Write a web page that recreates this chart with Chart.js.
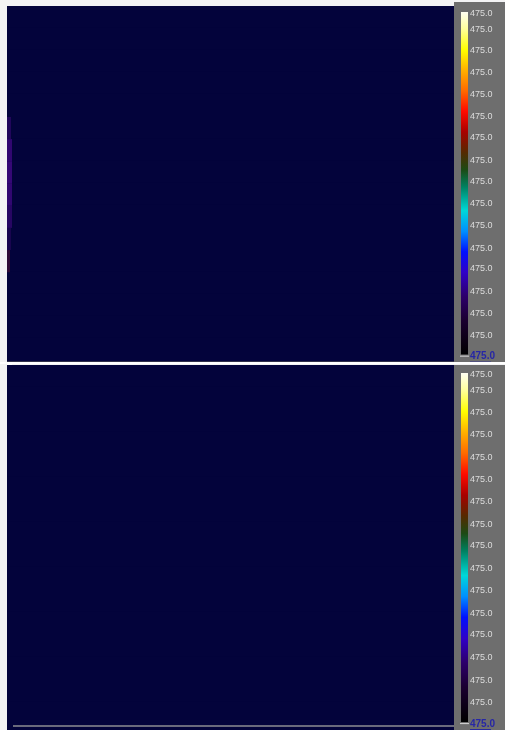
<!DOCTYPE html>
<html>
<head>
<meta charset="utf-8">
<title>Field panels</title>
<script src="https://cdn.jsdelivr.net/npm/chart.js"></script>
<style>
    body { margin: 0; background: #f3f3f4; }
    #wrap { position: relative; width: 505px; height: 730px; overflow: hidden; background: #f3f3f4; }
    .box { position: absolute; }
    .cbar { background: #6e6e6e; }
</style>
</head>
<body>
<div id="wrap">
    <div class="box" style="left:7px;top:6px;width:447px;height:355px;background:#03033b"><canvas id="fieldTop"></canvas></div>
    <div class="box cbar" style="left:454px;top:2px;width:51px;height:360px"><canvas id="barTop"></canvas></div>
    <div class="box" style="left:7px;top:361px;width:447px;height:1px;background:#30304a"></div>
    <div class="box" style="left:0;top:362px;width:505px;height:2px;background:#ffffff"></div>
    <div class="box" style="left:7px;top:364px;width:5px;height:2px;background:#ffffff"></div>
    <div class="box" style="left:7px;top:365px;width:447px;height:360px;background:#03033b"><canvas id="fieldBottom"></canvas></div>
    <div class="box" style="left:7px;top:725px;width:447px;height:5px;background:#03033b"></div>
    <div class="box" style="left:13px;top:725px;width:441px;height:2px;background:#6a6a7c"></div>
    <div class="box cbar" style="left:454px;top:365px;width:51px;height:365px"><canvas id="barBottom"></canvas></div>
</div>

<script>
// field grid: 16 row bands, every cell reads 475.0
const rowLabels = ['r1', 'r2', 'r3', 'r4', 'r5', 'r6', 'r7', 'r8',
                   'r9', 'r10', 'r11', 'r12', 'r13', 'r14', 'r15', 'r16'];
const fieldValues = [475, 475, 475, 475, 475, 475, 475, 475,
                     475, 475, 475, 475, 475, 475, 475, 475];
const fieldColumns = 447;

// faint glow on the left edge of the upper panel (width in columns)
const glowTop = [0, 0, 0, 0, 0, 4, 5, 5, 5, 5, 4, 3, 0, 0, 0, 0];
const glowColors = ['#000', '#000', '#000', '#000', '#000',
    'rgba(70,10,130,0.45)', 'rgba(80,10,150,0.6)', 'rgba(80,10,150,0.65)',
    'rgba(80,10,150,0.6)', 'rgba(75,10,140,0.5)', 'rgba(60,10,110,0.4)',
    'rgba(90,20,50,0.5)', '#000', '#000', '#000', '#000'];

// colour bar
const tickLabels = ['475.0', '475.0', '475.0', '475.0', '475.0', '475.0', '475.0', '475.0',
                    '475.0', '475.0', '475.0', '475.0', '475.0', '475.0', '475.0', '475.0', '475.0'];
const tickLevels = [0.003, 0.05, 0.113, 0.176, 0.241, 0.305, 0.367, 0.433,
                    0.494, 0.56, 0.624, 0.69, 0.75, 0.815, 0.88, 0.943, 1.006];
const stopPos = [0, 0.05, 0.11, 0.17, 0.23, 0.29, 0.35, 0.41, 0.46, 0.51,
                 0.58, 0.64, 0.70, 0.76, 0.83, 0.90, 1.0];
const stopColors = ['#fffff2', '#ffff9a', '#ffff00', '#ffb000', '#ff6a00', '#ff0a00',
                    '#a80000', '#552a00', '#1c4a14', '#008060', '#00d8d8', '#0090ff',
                    '#0010ff', '#3000c8', '#2c006a', '#1a0030', '#000000'];

const navy = '#03033b';
const tickFont = "'Liberation Sans', Arial, sans-serif";

function fieldChart(id, glow) {
    const datasets = [{
        label: 'field',
        data: fieldValues.map(() => [0, fieldColumns]),
        backgroundColor: navy,
        borderWidth: 0,
        inflateAmount: 1,
        barPercentage: 1,
        categoryPercentage: 1,
        grouped: false,
        order: 2
    }];
    if (glow) {
        datasets.push({
            label: 'edge',
            data: glow.map(w => [0, w]),
            backgroundColor: glowColors,
            borderWidth: 0,
            inflateAmount: 0,
            barPercentage: 1,
            categoryPercentage: 1,
            grouped: false,
            order: 1
        });
    }
    return new Chart(document.getElementById(id), {
        type: 'bar',
        data: { labels: rowLabels, datasets: datasets },
        options: {
            indexAxis: 'y',
            responsive: true,
            maintainAspectRatio: false,
            animation: false,
            layout: { padding: 0 },
            plugins: { legend: { display: false }, tooltip: { enabled: false } },
            scales: {
                x: { type: 'linear', min: 0, max: fieldColumns, display: false },
                y: { display: false }
            }
        }
    });
}

// underline under the bottom (highlighted) label
const underline = {
    id: 'underline',
    afterDraw(chart) {
        const y = chart.scales.y;
        const last = y.ticks.length - 1;
        const py = y.getPixelForValue(y.ticks[last].value);
        const c = chart.ctx;
        c.save();
        c.fillStyle = '#2222a0';
        c.fillRect(y.left + 2, py + 5, 21, 1);
        c.fillStyle = '#d8d8d8';
        c.fillRect(chart.chartArea.left - 1, py - 1, 9, 1);
        c.restore();
    }
};

function colourBar(id, padTop, padBottom) {
    return new Chart(document.getElementById(id), {
        type: 'bar',
        data: {
            labels: ['scale'],
            datasets: [{
                data: [[0, 1]],
                borderWidth: 0,
                barPercentage: 1,
                categoryPercentage: 1,
                backgroundColor: (ctx) => {
                    const area = ctx.chart.chartArea;
                    if (!area) return '#000';
                    const g = ctx.chart.ctx.createLinearGradient(0, area.top, 0, area.bottom);
                    stopPos.forEach((p, i) => g.addColorStop(p, stopColors[i]));
                    return g;
                }
            }]
        },
        options: {
            responsive: true,
            maintainAspectRatio: false,
            animation: false,
            layout: { padding: { left: 7, top: padTop, bottom: padBottom, right: 0 } },
            plugins: { legend: { display: false }, tooltip: { enabled: false } },
            scales: {
                x: { display: false },
                y: {
                    position: 'right',
                    reverse: true,
                    min: 0,
                    max: 1,
                    grid: { display: false, drawTicks: false, tickLength: 0 },
                    border: { display: false },
                    afterBuildTicks: (axis) => { axis.ticks = tickLevels.map(v => ({ value: v })); },
                    afterFit: (axis) => { axis.width = 37; },
                    ticks: {
                        padding: 2,
                        autoSkip: false,
                        callback: (v, i) => tickLabels[i],
                        color: (c) => c.index === tickLabels.length - 1 ? '#2626a6' : '#dcdcdc',
                        font: (c) => ({
                            family: tickFont,
                            size: c.index === tickLabels.length - 1 ? 10 : 9,
                            weight: c.index === tickLabels.length - 1 ? 'bold' : 'normal'
                        })
                    }
                }
            }
        },
        plugins: [underline]
    });
}

fieldChart('fieldTop', glowTop);
fieldChart('fieldBottom', null);
colourBar('barTop', 10, 4);
colourBar('barBottom', 5, 8);
</script>
</body>
</html>
